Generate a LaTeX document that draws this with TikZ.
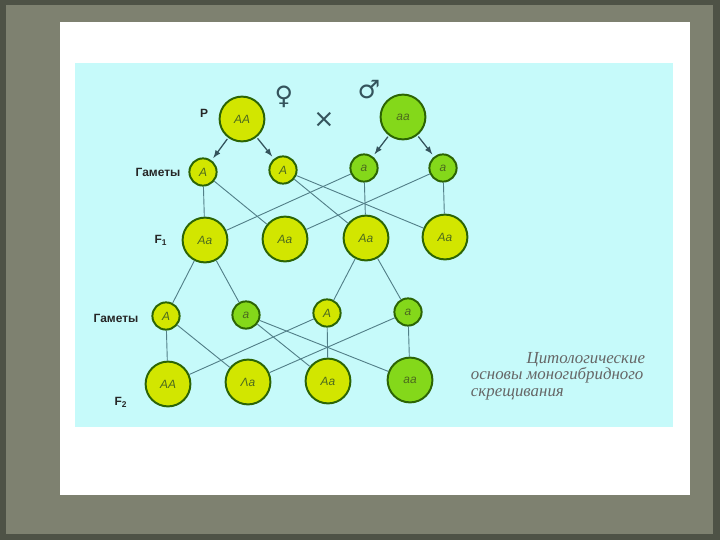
\documentclass[tikz,border=0pt]{standalone}
\usepackage{fontspec}
\setmainfont{Liberation Sans}
\newfontfamily\symfont{DejaVu Sans}
\newfontfamily\titlefont{Liberation Serif}
\usepackage{tikz}
\usetikzlibrary{
  arrows,%
  calc%
}
\definecolor{frameolive}{HTML}{7E8170}
\definecolor{framedark}{HTML}{4E5246}
\definecolor{panelcyan}{HTML}{C6FAFA}
\definecolor{lemon}{HTML}{D2E600}
\definecolor{lime}{HTML}{84D81A}
\definecolor{rimgreen}{HTML}{2C6404}
\definecolor{labelgreen}{HTML}{4C6A1E}
\definecolor{wirecol}{HTML}{527F88}
\definecolor{arrowgray}{HTML}{34535C}
\tikzset{>=latex}
\tikzset{
  zygote/.style={circle, draw=rimgreen, line width=1.4pt, minimum size=1.12cm,
    inner sep=0pt, font=\itshape\fontsize{8.5}{8.5}\selectfont, text=labelgreen},
  gamete/.style={zygote, minimum size=0.68cm},
  dom/.style={fill=lemon},
  rec/.style={fill=lime},
  wire/.style={draw=wirecol, line width=0.65pt},
  descent/.style={->, draw=arrowgray, line width=0.9pt, shorten <=1pt,
    shorten >=2pt},
  rowlabel/.style={font=\bfseries\fontsize{8.5}{9}\selectfont, text=black!85},
  sexsign/.style={font=\symfont\fontsize{18}{18}\selectfont, text=arrowgray},
  caption/.style={font=\titlefont\itshape\fontsize{12}{12}\selectfont,
    text=black!60}
}
\begin{document}
\begin{tikzpicture}[x=0.025cm, y=-0.025cm]
  % frame, card and panel
  \fill[framedark] (0,0) rectangle (720,540); %
  \fill[frameolive] (6,5) rectangle (713,534); %
  \fill[white] (60,22) rectangle (690,495); %
  \fill[panelcyan] (75,63) rectangle (673,427); %
  \useasboundingbox (0,0) rectangle (720,540); %

  % parents
  \node[rowlabel] (P) at (204,113) {P}; %
  \node[zygote, dom] (AA) at (242,119) {AA}; %
  \node[zygote, rec] (aa) at (403,117) {aa}; %
  \node[sexsign] (female) at (284,97) {♀}; %
  \node[sexsign] (male) at (369,90) {♂}; %
  \node[sexsign, font=\symfont\fontsize{18}{18}\selectfont] (cross) at (324,120) {×}; %

  % gametes of the parents
  \node[rowlabel] (gam1) at (158,172) {Гаметы}; %
  \node[gamete, dom] (A1) at (203,172) {A}; %
  \node[gamete, dom] (A2) at (283,170) {A}; %
  \node[gamete, rec] (a1) at (364,168) {a}; %
  \node[gamete, rec] (a2) at (443,168) {a}; %

  % first generation
  \node[rowlabel] (F1) at (161,240) {F$_{\mathbf 1}$}; %
  \node[zygote, dom] (Aa1) at (205,240) {Aa}; %
  \node[zygote, dom] (Aa2) at (285,239) {Aa}; %
  \node[zygote, dom] (Aa3) at (366,238) {Aa}; %
  \node[zygote, dom] (Aa4) at (445,237) {Aa}; %

  % gametes of the first generation
  \node[rowlabel] (gam2) at (116,318) {Гаметы}; %
  \node[gamete, dom] (B1) at (166,316) {A}; %
  \node[gamete, rec] (b1) at (246,315) {a}; %
  \node[gamete, dom] (B2) at (327,313) {A}; %
  \node[gamete, rec] (b2) at (408,312) {a}; %

  % second generation
  \node[rowlabel] (F2) at (121,402) {F$_{\mathbf 2}$}; %
  \node[zygote, dom] (G1) at (168,384) {AA}; %
  \node[zygote, dom] (G2) at (248,382) {Λa}; %
  \node[zygote, dom] (G3) at (328,381) {Aa}; %
  \node[zygote, rec] (G4) at (410,380) {aa}; %

  % meiosis arrows
  \draw[descent] (AA) -- (A1); %
  \draw[descent] (AA) -- (A2); %
  \draw[descent] (aa) -- (a1); %
  \draw[descent] (aa) -- (a2); %

  % fertilisation
  \draw[wire] (A1) -- (Aa1); \draw[wire] (A1) -- (Aa2); %
  \draw[wire] (A2) -- (Aa3); \draw[wire] (A2) -- (Aa4); %
  \draw[wire] (a1) -- (Aa1); \draw[wire] (a1) -- (Aa3); %
  \draw[wire] (a2) -- (Aa2); \draw[wire] (a2) -- (Aa4); %

  \draw[wire] (Aa1) -- (B1); \draw[wire] (Aa1) -- (b1); %
  \draw[wire] (Aa3) -- (B2); \draw[wire] (Aa3) -- (b2); %

  \draw[wire] (B1) -- (G1); \draw[wire] (B1) -- (G2); %
  \draw[wire] (b1) -- (G3); \draw[wire] (b1) -- (G4); %
  \draw[wire] (B2) -- (G1); \draw[wire] (B2) -- (G3); %
  \draw[wire] (b2) -- (G2); \draw[wire] (b2) -- (G4); %

  % caption
  \node[caption, anchor=base east] (cap1) at (650,363) {Цитологические}; %
  \node[caption, anchor=base west] (cap2) at (466,379) {основы моногибридного}; %
  \node[caption, anchor=base west] (cap3) at (466,396) {скрещивания}; %
\end{tikzpicture}
\end{document}
